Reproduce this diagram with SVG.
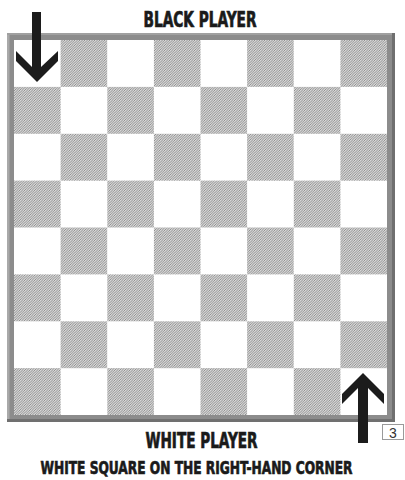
<svg xmlns="http://www.w3.org/2000/svg" width="405" height="480" viewBox="0 0 405 480">
  <style>
    .lbl { font-family: "Liberation Sans Narrow", "DejaVu Sans Condensed", "Liberation Sans", sans-serif; font-weight: bold; font-size: 21px; fill: #1a1a1a; stroke: #1a1a1a; stroke-width: 0.7px; text-anchor: middle; }
    .cap { font-size: 18.5px; }
    .dark { fill: url(#hatch); }
    .arrow { fill: #1c1c1c; }
  </style>
  <defs>
    <pattern id="hatch" patternUnits="userSpaceOnUse" width="2.5" height="2.5">
      <rect width="2.5" height="2.5" fill="#ffffff"/>
      <path d="M0,2.5 L2.5,0 M-1,1 L1,-1 M1.5,3.5 L3.5,1.5" stroke="#7a7a7a" stroke-width="0.9"/>
    </pattern>
  </defs>
  <rect width="405" height="480" fill="#ffffff"/>

  <g id="board">
    <rect x="7" y="33" width="388" height="389" fill="#8c8c8c"/>
    <rect x="7" y="33" width="2.5" height="389" fill="#a9a9a9"/>
    <rect x="7" y="33" width="388" height="2" fill="#a0a0a0"/>
    <rect x="392" y="33" width="3" height="389" fill="#6f6f6f"/>
    <rect x="7" y="419" width="388" height="3" fill="#707070"/>
    <rect x="14" y="40" width="373" height="375" fill="#ffffff"/>
    <g id="squares">
      <rect class="dark" x="60.6" y="40" width="46.6" height="46.9"/>
      <rect class="dark" x="153.9" y="40" width="46.6" height="46.9"/>
      <rect class="dark" x="247.1" y="40" width="46.6" height="46.9"/>
      <rect class="dark" x="340.4" y="40" width="46.6" height="46.9"/>
      <rect class="dark" x="14" y="86.9" width="46.6" height="46.9"/>
      <rect class="dark" x="107.3" y="86.9" width="46.6" height="46.9"/>
      <rect class="dark" x="200.5" y="86.9" width="46.6" height="46.9"/>
      <rect class="dark" x="293.8" y="86.9" width="46.6" height="46.9"/>
      <rect class="dark" x="60.6" y="133.8" width="46.6" height="46.9"/>
      <rect class="dark" x="153.9" y="133.8" width="46.6" height="46.9"/>
      <rect class="dark" x="247.1" y="133.8" width="46.6" height="46.9"/>
      <rect class="dark" x="340.4" y="133.8" width="46.6" height="46.9"/>
      <rect class="dark" x="14" y="180.6" width="46.6" height="46.9"/>
      <rect class="dark" x="107.3" y="180.6" width="46.6" height="46.9"/>
      <rect class="dark" x="200.5" y="180.6" width="46.6" height="46.9"/>
      <rect class="dark" x="293.8" y="180.6" width="46.6" height="46.9"/>
      <rect class="dark" x="60.6" y="227.5" width="46.6" height="46.9"/>
      <rect class="dark" x="153.9" y="227.5" width="46.6" height="46.9"/>
      <rect class="dark" x="247.1" y="227.5" width="46.6" height="46.9"/>
      <rect class="dark" x="340.4" y="227.5" width="46.6" height="46.9"/>
      <rect class="dark" x="14" y="274.4" width="46.6" height="46.9"/>
      <rect class="dark" x="107.3" y="274.4" width="46.6" height="46.9"/>
      <rect class="dark" x="200.5" y="274.4" width="46.6" height="46.9"/>
      <rect class="dark" x="293.8" y="274.4" width="46.6" height="46.9"/>
      <rect class="dark" x="60.6" y="321.3" width="46.6" height="46.9"/>
      <rect class="dark" x="153.9" y="321.3" width="46.6" height="46.9"/>
      <rect class="dark" x="247.1" y="321.3" width="46.6" height="46.9"/>
      <rect class="dark" x="340.4" y="321.3" width="46.6" height="46.9"/>
      <rect class="dark" x="14" y="368.1" width="46.6" height="46.9"/>
      <rect class="dark" x="107.3" y="368.1" width="46.6" height="46.9"/>
      <rect class="dark" x="200.5" y="368.1" width="46.6" height="46.9"/>
      <rect class="dark" x="293.8" y="368.1" width="46.6" height="46.9"/>
    </g>
  </g>

  <g id="arrow-black">
    <polygon class="arrow" points="32,12 41,12 41,67 58,51 58,61 37,82 16,61 16,51 32,67"/>
  </g>
  <g id="arrow-white">
    <polygon class="arrow" points="358,443 368,443 368,388 384,404 384,394 363,373 342,394 342,404 358,388"/>
  </g>

  <g id="label-black">
    <text class="lbl" x="200" y="27" textLength="113" lengthAdjust="spacingAndGlyphs">BLACK PLAYER</text>
  </g>
  <g id="label-white">
    <text class="lbl" x="201.5" y="448" textLength="112" lengthAdjust="spacingAndGlyphs">WHITE PLAYER</text>
  </g>
  <g id="caption">
    <text class="lbl cap" x="196.5" y="474" textLength="312" lengthAdjust="spacingAndGlyphs">WHITE SQUARE ON THE RIGHT-HAND CORNER</text>
  </g>
  <g id="figure-number">
    <rect x="382.5" y="424.5" width="21" height="15" fill="#ffffff" stroke="#9a9a9a" stroke-width="1"/>
    <text x="393" y="437.5" font-family="Liberation Sans, sans-serif" font-size="14" fill="#333333" text-anchor="middle">3</text>
  </g>
</svg>
